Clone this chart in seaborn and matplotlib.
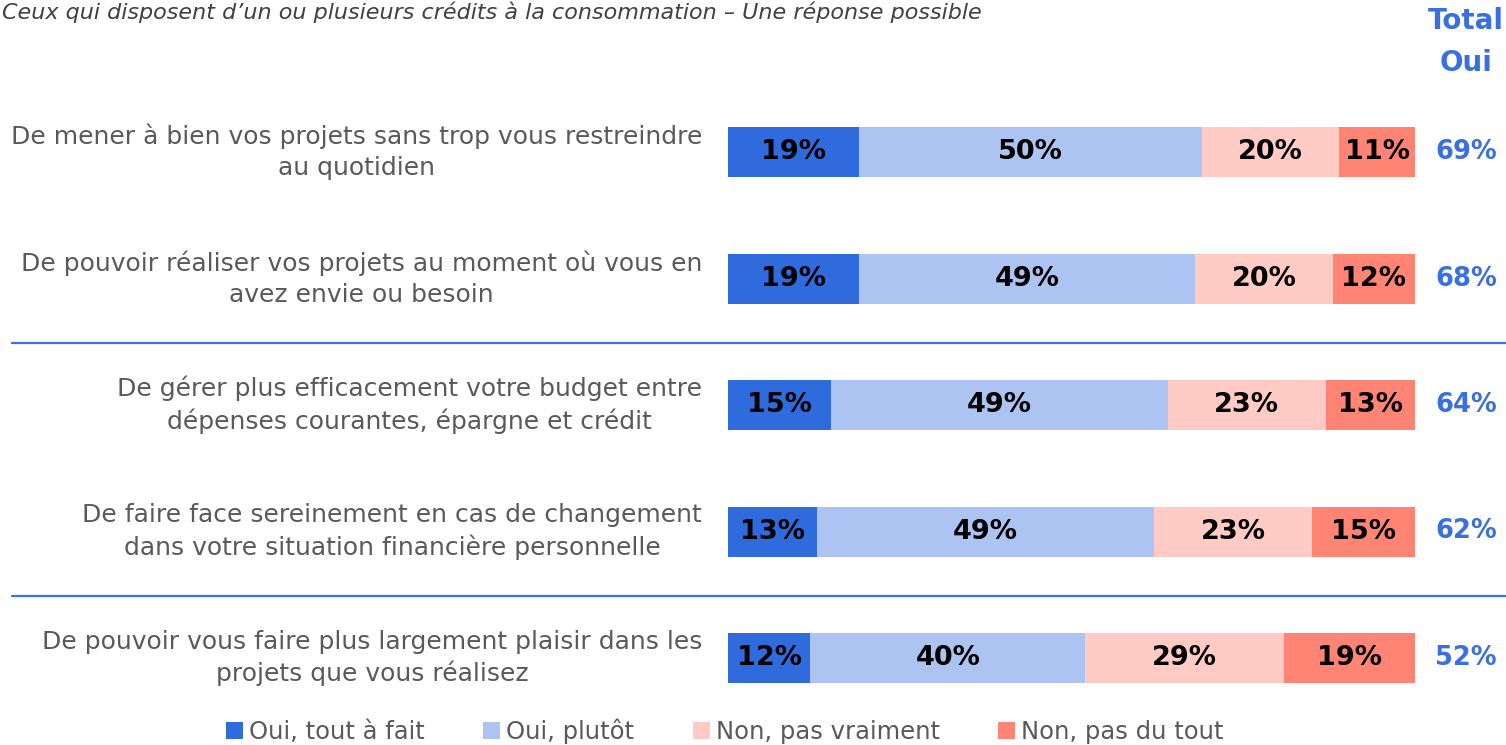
import matplotlib
matplotlib.use("Agg")
import matplotlib.pyplot as plt
import seaborn as sns
import pandas as pd
import numpy as np
from matplotlib.patches import Patch

sns.set_theme(style="white")
plt.rcParams["font.family"] = ["DejaVu Sans"]

questions = [
    "De mener à bien vos projets sans trop vous restreindre\nau quotidien",
    "De pouvoir réaliser vos projets au moment où vous en\navez envie ou besoin",
    "De gérer plus efficacement votre budget entre\ndépenses courantes, épargne et crédit",
    "De faire face sereinement en cas de changement\ndans votre situation financière personnelle",
    "De pouvoir vous faire plus largement plaisir dans les\nprojets que vous réalisez",
]
answers = ["Oui, tout à fait", "Oui, plutôt", "Non, pas vraiment", "Non, pas du tout"]
oui_tout_a_fait = [19, 19, 15, 13, 12]
oui_plutot = [50, 49, 49, 49, 40]
non_pas_vraiment = [20, 20, 23, 23, 29]
non_pas_du_tout = [11, 12, 13, 15, 19]
total_oui = [69, 68, 64, 62, 52]
colors = ["#2F6BDD", "#ADC3F2", "#FFCBC4", "#FF8473"]
total_color = "#3A6FE0"
label_color = "#595959"

W, H = 1506, 745
fig = plt.figure(figsize=(W / 100, H / 100), dpi=100)

# bar axes: x from 728px to 1415px, full figure height
ax = fig.add_axes([728 / W, 0, 687 / W, 1])
row_gap = 126.5
top_center = 152
y_top = -top_center / row_gap
y_bot = (H - top_center) / row_gap

series = [oui_tout_a_fait, oui_plutot, non_pas_vraiment, non_pas_du_tout]
df = pd.DataFrame({"question": questions})
for name, vals in zip(answers, series):
    df[name] = vals
cum = np.cumsum(np.array(series), axis=0)

# layered cumulative bars, widest first
for k in range(3, -1, -1):
    sns.barplot(x=cum[k], y=df["question"], order=questions, orient="h",
                color=colors[k], width=50 / row_gap, ax=ax,
                saturation=1, linewidth=0)

ax.set_xlim(0, 100)
ax.set_ylim(y_bot, y_top)
ax.axis("off")

for i in range(len(questions)):
    left = 0
    for k in range(4):
        v = series[k][i]
        ax.text(left + v / 2, i, f"{v}%", ha="center", va="center",
                fontsize=19.5, fontweight="bold", color="black")
        left += v
    fig.text(1466 / W, 1 - (top_center + row_gap * i) / H, f"{total_oui[i]}%",
             ha="center", va="center", fontsize=18.5, fontweight="bold",
             color=total_color)
    fig.text(702 / W, 1 - (top_center + row_gap * i) / H, questions[i],
             ha="right", va="center", multialignment="center",
             fontsize=18, color=label_color, linespacing=1.36)

fig.text(1466 / W, 1 - 42 / H, "Total\nOui", ha="center", va="center",
         fontsize=20, fontweight="bold", color=total_color, linespacing=1.6)

fig.text(2 / W, 1 - 12 / H,
         "Ceux qui disposent d’un ou plusieurs crédits à la consommation – Une réponse possible",
         ha="left", va="center", fontsize=16, style="italic", color="#404040")

for yp in (343, 596):
    fig.add_artist(plt.Line2D([12 / W, 1], [1 - yp / H, 1 - yp / H],
                              color=total_color, linewidth=1.6))

handles = [Patch(facecolor=c, edgecolor="none", label=a) for c, a in zip(colors, answers)]
fig.legend(handles=handles, loc="center", bbox_to_anchor=(725 / W, 1 - 731 / H),
           ncol=4, frameon=False, fontsize=17.5, labelcolor=label_color,
           handlelength=0.7, handleheight=0.7, handletextpad=0.25,
           columnspacing=2.4)

fig.savefig("out.png", dpi=100)
